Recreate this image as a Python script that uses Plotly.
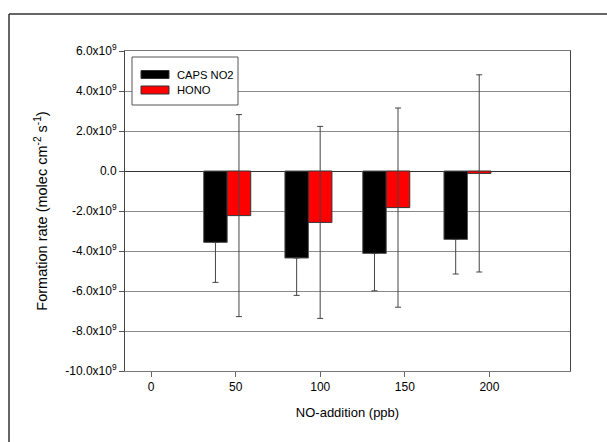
import plotly.graph_objects as go

# ---- data ----
no_addition = [45, 93, 139, 187]                 # ppb (group centres)
series_names = ["CAPS NO2", "HONO"]
caps_no2 = [-3.57e9, -4.35e9, -4.12e9, -3.42e9]
caps_no2_err = [2.0e9, 1.87e9, 1.87e9, 1.73e9]
hono = [-2.23e9, -2.57e9, -1.83e9, -0.12e9]
hono_err = [5.05e9, 4.80e9, 4.98e9, 4.93e9]
x_ticks = [0, 50, 100, 150, 200]
y_ticks = [-10e9, -8e9, -6e9, -4e9, -2e9, 0, 2e9, 4e9, 6e9]
y_ticktext = ["-10.0x10<sup>9</sup>", "-8.0x10<sup>9</sup>", "-6.0x10<sup>9</sup>",
              "-4.0x10<sup>9</sup>", "-2.0x10<sup>9</sup>", "0.0",
              "2.0x10<sup>9</sup>", "4.0x10<sup>9</sup>", "6.0x10<sup>9</sup>"]
colors = ["#000000", "#ff0000"]

BW = 13.9
FONT = "Liberation Sans, Arial, sans-serif"

fig = go.Figure()
# the upper half of the CAPS NO2 error bar lies hidden inside the black bar
fig.add_trace(go.Bar(
    x=no_addition, y=caps_no2, name=series_names[0], width=BW, offset=-BW,
    marker=dict(color=colors[0], line=dict(color="#555555", width=1)),
    error_y=dict(type="data", symmetric=False, array=[0] * len(caps_no2_err),
                 arrayminus=caps_no2_err, visible=True,
                 color="#444444", thickness=1, width=3),
    showlegend=False))
fig.add_trace(go.Bar(
    x=no_addition, y=hono, name=series_names[1], width=BW, offset=0,
    marker=dict(color=colors[1], line=dict(color="#333333", width=1)),
    error_y=dict(type="data", array=hono_err, visible=True,
                 color="#444444", thickness=1, width=3),
    showlegend=False))

L, R, T, B = 125, 37, 51, 71
W, H = 607, 442
pw, ph = W - L - R, H - T - B

def px_x(p):
    return (p - L) / pw

def px_y(p):
    return (H - B - p) / ph

shapes = []
# outer frame (left and top lines of the page box)
shapes.append(dict(type="line", xref="paper", yref="paper",
                   x0=px_x(9), x1=px_x(640), y0=px_y(14), y1=px_y(14),
                   line=dict(color="#333333", width=1.5)))
shapes.append(dict(type="line", xref="paper", yref="paper",
                   x0=px_x(9), x1=px_x(9), y0=px_y(14), y1=px_y(470),
                   line=dict(color="#333333", width=1.5)))
# legend box
shapes.append(dict(type="rect", xref="paper", yref="paper",
                   x0=px_x(132), x1=px_x(238), y0=px_y(105), y1=px_y(57),
                   line=dict(color="#555555", width=1), fillcolor="white", layer="above"))
annotations = []
for i, (nm, c) in enumerate(zip(series_names, colors)):
    yc = 74.5 + i * 15.5
    shapes.append(dict(type="rect", xref="paper", yref="paper",
                       x0=px_x(141), x1=px_x(169), y0=px_y(yc + 4), y1=px_y(yc - 4),
                       line=dict(color="#333333", width=1), fillcolor=c, layer="above"))
    annotations.append(dict(text=nm, xref="paper", yref="paper", x=px_x(175), y=px_y(yc),
                            xanchor="left", yanchor="middle", showarrow=False,
                            font=dict(family=FONT, size=11.2, color="black")))

fig.update_layout(
    width=W, height=H, margin=dict(l=L, r=R, t=T, b=B),
    paper_bgcolor="white", plot_bgcolor="white",
    barmode="overlay",
    font=dict(family=FONT, size=12, color="black"),
    shapes=shapes, annotations=annotations,
    xaxis=dict(range=[-15.4, 247.6], tickvals=x_ticks, ticks="outside", ticklen=5,
               tickcolor="#666666", showgrid=False, zeroline=False,
               showline=True, linecolor="#777777", linewidth=1, mirror=True,
               title=dict(text="NO-addition (ppb)", font=dict(size=13), standoff=14),
               tickfont=dict(size=12)),
    yaxis=dict(range=[-10e9, 6e9], tickvals=y_ticks, ticktext=y_ticktext,
               ticks="outside", ticklen=5, tickcolor="#555555",
               showgrid=True, gridcolor="#8a8a8a", gridwidth=1,
               zeroline=True, zerolinecolor="#333333", zerolinewidth=1,
               showline=True, linecolor="#444444", linewidth=1, mirror=True,
               title=dict(text="Formation rate (molec cm<sup>-2</sup> s<sup>-1</sup>)",
                          font=dict(size=14.5), standoff=14),
               tickfont=dict(size=12)),
)

fig.write_html("out.html")
